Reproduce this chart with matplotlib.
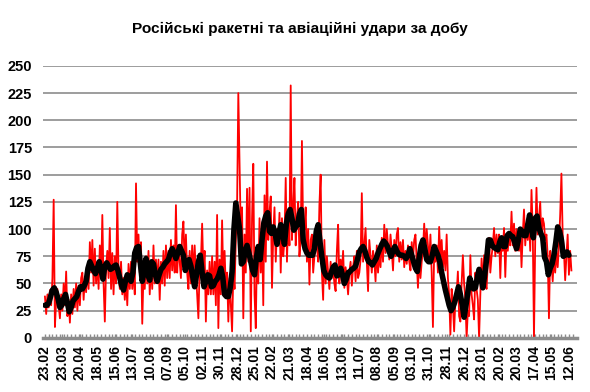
import numpy as np
import pandas as pd
import matplotlib
matplotlib.use('Agg')
import matplotlib.pyplot as plt

title = 'Російські ракетні та авіаційні удари за добу'

start = '2023-02-23'

# strikes per day (red), one reading every 2 days from 23.02.2023
strikes = [
    38, 22, 40, 28, 44, 30, 55, 127, 10, 35,
    45, 30, 18, 40, 25, 50, 30, 61, 20, 35,
    14, 40, 22, 45, 28, 50, 25, 48, 30, 55,
    60, 35, 55, 42, 65, 45, 88, 60, 90, 48,
    82, 50, 70, 45, 85, 55, 113, 50, 15, 65,
    80, 55, 101, 45, 78, 40, 75, 50, 125, 60,
    45, 70, 40, 55, 35, 55, 30, 68, 45, 70,
    45, 65, 40, 142, 70, 95, 60, 88, 13, 60,
    45, 75, 50, 80, 40, 68, 45, 85, 50, 72,
    50, 72, 35, 70, 50, 80, 48, 85, 55, 80,
    55, 90, 62, 85, 60, 122, 60, 85, 70, 55,
    95, 107, 65, 95, 60, 45, 80, 50, 85, 55,
    85, 60, 40, 18, 65, 70, 105, 60, 80, 15,
    62, 40, 70, 40, 75, 40, 70, 30, 113, 9,
    72, 40, 108, 50, 80, 45, 60, 15, 55, 30,
    6, 60, 45, 90, 120, 225, 162, 95, 120, 18,
    95, 60, 137, 70, 138, 6, 110, 160, 40, 9,
    85, 50, 110, 60, 100, 30, 131, 70, 162, 90,
    115, 130, 46, 95, 120, 70, 100, 85, 115, 60,
    110, 75, 90, 147, 70, 110, 85, 232, 90, 120,
    147, 85, 110, 125, 75, 90, 181, 95, 100, 120,
    70, 100, 49, 90, 95, 60, 75, 90, 85, 70,
    122, 150, 60, 35, 90, 50, 75, 60, 45, 70,
    55, 65, 50, 43, 80, 104, 50, 72, 60, 80,
    46, 65, 55, 40, 60, 70, 48, 65, 75, 52,
    80, 55, 60, 72, 133, 70, 85, 101, 70, 43,
    90, 75, 60, 80, 72, 52, 85, 60, 78, 65,
    92, 70, 104, 78, 100, 85, 72, 95, 80, 62,
    90, 75, 95, 101, 70, 88, 72, 90, 65, 80,
    68, 85, 70, 62, 88, 72, 90, 95, 70, 46,
    75, 55, 70, 80, 105, 80, 100, 85, 70, 95,
    60, 10, 80, 70, 85, 60, 102, 72, 90, 65,
    80, 62, 95, 55, 40, 3, 45, 30, 6, 35,
    40, 61, 20, 15, 50, 76, 50, 35, 0, 25,
    20, 76, 40, 30, 17, 60, 45, 35, 0, 40,
    73, 45, 76, 50, 45, 70, 92, 60, 75, 85,
    101, 75, 95, 78, 95, 55, 90, 80, 101, 56,
    92, 80, 95, 85, 116, 85, 105, 80, 100, 90,
    80, 100, 65, 95, 118, 85, 105, 90, 110, 80,
    136, 100, 0, 90, 138, 95, 110, 125, 90, 110,
    105, 90, 95, 75, 18, 80, 70, 52, 75, 60,
    80, 65, 85, 113, 151, 95, 80, 53, 75, 95,
    58, 80, 62,
]

# 7-day average (black), one reading every 3 days
average = [
    30, 30, 32, 38, 44, 46, 42, 36, 28, 30,
    36, 40, 32, 24, 28, 34, 36, 38, 43,
    47, 45, 48, 52, 64, 70, 66, 62, 59, 64,
    70, 62, 54, 66, 69, 66, 63, 64, 66, 67,
    62, 55, 48, 44, 52, 58, 56, 52, 60, 78,
    83, 84, 68, 52, 62, 73, 58, 53, 70, 68,
    58, 52, 58, 63, 65, 68, 70, 72, 78,
    82, 78, 73, 78, 84, 80, 76, 62, 68, 72,
    66, 56, 47, 58, 70, 76, 60, 47, 52, 58,
    57, 47, 48, 52, 54, 58, 64, 56, 40, 38,
    38, 46, 61, 100, 124, 112, 100, 68, 70, 80,
    85, 78, 70, 62, 58, 74, 84, 72, 90, 106,
    112, 115, 98, 96, 102, 96, 86, 96, 104, 96,
    86, 105, 114, 118, 110, 99, 102, 104, 114, 118,
    90, 82, 78, 76, 76, 76, 82, 98, 104, 88,
    74, 62, 58, 56, 55, 60, 65, 67, 57, 58,
    64, 58, 50, 54, 60, 61, 63, 64, 66, 72,
    79, 82, 84, 80, 74, 70, 69, 67, 70, 73,
    78, 82, 86, 89, 87, 84, 79, 75, 80, 84,
    80, 77, 76, 76, 75, 73, 76, 82, 76,
    70, 64, 61, 74, 85, 90, 82, 72, 70, 70,
    76, 84, 80, 76, 70, 60, 52, 44, 37, 30,
    25, 28, 33, 40, 47, 40, 30, 19, 30, 42,
    55, 50, 45, 46, 55, 63, 55, 46, 58, 72,
    90, 90, 85, 83, 82, 81, 88, 92, 84, 84,
    94, 96, 94, 93, 88, 82, 90, 100, 98, 94,
    94, 104, 113, 100, 92, 110, 112, 101, 96, 92,
    74, 70, 58, 64, 68, 76, 88, 102, 98, 90,
    75, 76, 79, 76,
]

date_labels = ['23.02', '23.03', '20.04', '18.05', '15.06', '13.07', '10.08',
               '07.09', '05.10', '02.11', '30.11', '28.12', '25.01', '22.02',
               '21.03', '18.04', '16.05', '13.06', '11.07', '08.08', '05.09',
               '03.10', '31.10', '28.11', '26.12', '23.01', '20.02', '20.03',
               '17.04', '15.05', '12.06']

t0 = pd.Timestamp(start)
strike_dates = pd.date_range(start, periods=len(strikes), freq='2D')
avg_dates = pd.date_range(start, periods=len(average), freq='3D')

fig = plt.figure(figsize=(5.9, 3.92), dpi=100)
ax = fig.add_axes([0.073, 0.138, 0.905, 0.694])

ax.plot(strike_dates, strikes, color='#ff0000', lw=1.3, zorder=2)
ax.plot(avg_dates, average, color='black', lw=4, zorder=3,
        solid_joinstyle='round', solid_capstyle='round')

ax.set_ylim(0, 250)
ax.set_yticks(range(0, 251, 25))
ax.grid(axis='y', color='#8c8c8c', lw=1.2)
ax.set_axisbelow(True)

ax.set_xlim(t0 - pd.Timedelta(days=3), t0 + pd.Timedelta(days=853))
ax.set_xticks(pd.date_range(start, periods=len(date_labels), freq='28D'))
ax.set_xticklabels(date_labels, rotation=90)
ax.set_xticks(pd.date_range(start, t0 + pd.Timedelta(days=850), freq='6D'), minor=True)

for s in ['left', 'top', 'right']:
    ax.spines[s].set_visible(False)
ax.spines['bottom'].set_color('#8c8c8c')
ax.spines['bottom'].set_linewidth(2.5)

ax.tick_params(axis='y', length=0, pad=8)
ax.tick_params(axis='x', which='both', direction='in', length=3,
               color='#8c8c8c', width=1, pad=5)
for lab in ax.get_xticklabels():
    lab.set_fontfamily('Liberation Sans')
    lab.set_fontweight('bold')
    lab.set_fontsize(10)
for lab in ax.get_yticklabels():
    lab.set_fontfamily('Liberation Sans')
    lab.set_fontweight('bold')
    lab.set_fontsize(10.5)

fig.text(0.508, 0.926, title, ha='center', va='center', fontsize=11.1,
         fontweight='bold', family=['Liberation Sans', 'DejaVu Sans'])

fig.savefig('out.png', dpi=100, facecolor='white')
